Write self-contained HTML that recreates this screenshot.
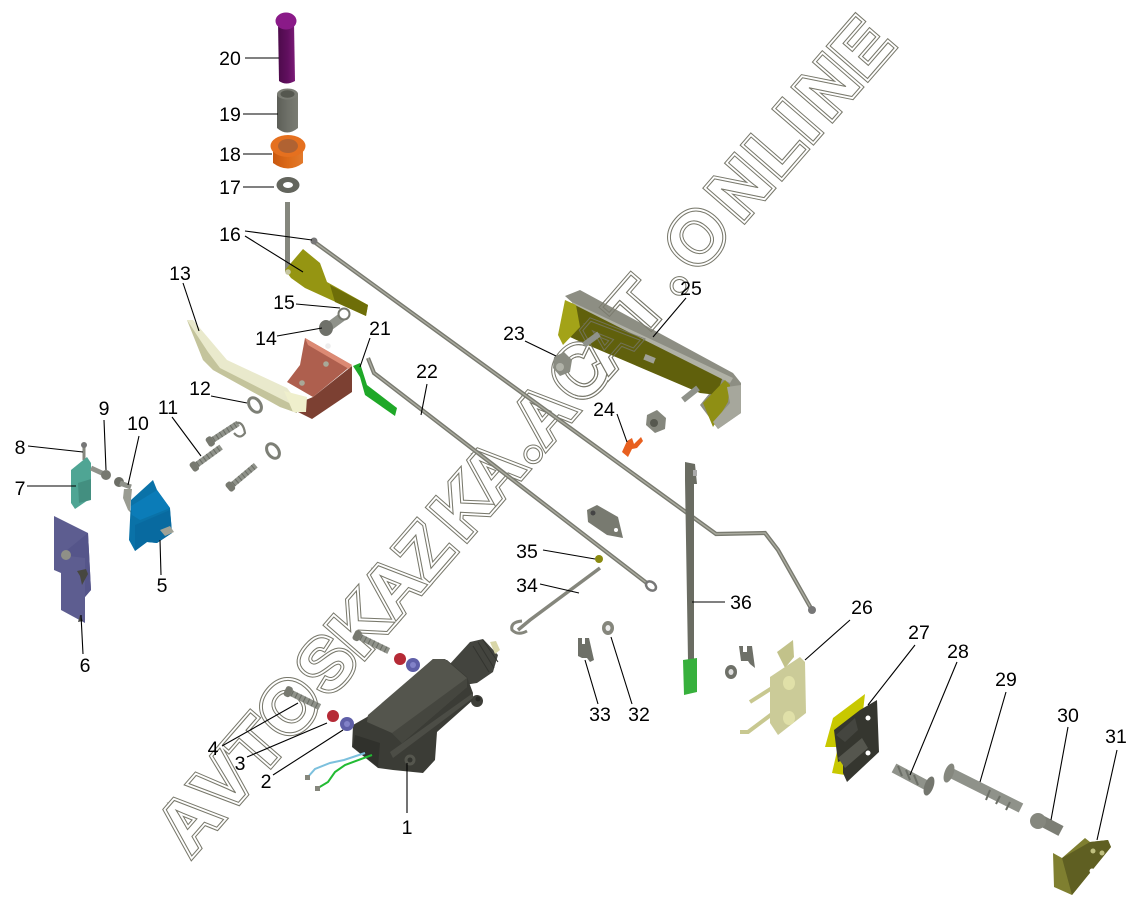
<!DOCTYPE html>
<html><head><meta charset="utf-8"><style>
html,body{margin:0;padding:0;background:#fff}
svg{display:block}
.n{font:19.5px "Liberation Sans",sans-serif;fill:#000;text-anchor:middle}
.l{stroke:#000;stroke-width:1.1;fill:none}
.wm{font:bold 72px "Liberation Sans",sans-serif;stroke-linejoin:miter}
</style></head><body>
<svg width="1145" height="903" viewBox="0 0 1145 903" xmlns="http://www.w3.org/2000/svg">
<defs>
<linearGradient id="pur" x1="0" x2="1" y1="0" y2="0"><stop offset="0" stop-color="#4c0a4a"/><stop offset=".6" stop-color="#620f60"/><stop offset="1" stop-color="#7c1c78"/></linearGradient>
<linearGradient id="gry" x1="0" x2="1" y1="0" y2="0"><stop offset="0" stop-color="#5c5e57"/><stop offset=".5" stop-color="#6e7068"/><stop offset="1" stop-color="#7a7c73"/></linearGradient>
<linearGradient id="org" x1="0" x2="1" y1="0" y2="0"><stop offset="0" stop-color="#c85810"/><stop offset=".5" stop-color="#dc6a18"/><stop offset="1" stop-color="#e27a2c"/></linearGradient>
<g id="scr"><rect x="0" y="-3.5" width="38" height="7" fill="#8f928a"/><path d="M4-3.5V3.500M9-3.500V3.500M14-3.500V3.500M19-3.500V3.500M24-3.500V3.500M29-3.500V3.500M34-3.500V3.500" stroke="#6a6d65" stroke-width="1.200"/><rect x="-5" y="-6" width="8" height="12" rx="3" fill="#777970"/></g>
<mask id="wmm" maskUnits="userSpaceOnUse" x="0" y="0" width="1145" height="903">
<rect width="1145" height="903" fill="#000"/>
<g transform="translate(190,858) rotate(-49)">
<text class="wm" fill="#fff" stroke="#fff" stroke-width="6.800"><tspan x="1 55 106 151 212 261 312 363 417 464">AVTOSKAZKA</tspan><tspan x="522" y="9" font-size="45">•</tspan><tspan x="541 597 636 686" y="0">ACAT</tspan><tspan x="745" y="9" font-size="45">•</tspan><tspan x="773 840 897 945 974 1028" y="0">ONLINE</tspan></text>
<text class="wm" fill="#000" stroke="#000" stroke-width="4.800"><tspan x="1 55 106 151 212 261 312 363 417 464">AVTOSKAZKA</tspan><tspan x="522" y="9" font-size="45">•</tspan><tspan x="541 597 636 686" y="0">ACAT</tspan><tspan x="745" y="9" font-size="45">•</tspan><tspan x="773 840 897 945 974 1028" y="0">ONLINE</tspan></text>
<text class="wm" fill="#000" stroke="#fff" stroke-width="1"><tspan x="1 55 106 151 212 261 312 363 417 464">AVTOSKAZKA</tspan><tspan x="522" y="9" font-size="45">•</tspan><tspan x="541 597 636 686" y="0">ACAT</tspan><tspan x="745" y="9" font-size="45">•</tspan><tspan x="773 840 897 945 974 1028" y="0">ONLINE</tspan></text>
</g>
</mask>
</defs>
<rect width="1145" height="903" fill="#fff"/>
<rect width="1145" height="903" fill="#77776a" mask="url(#wmm)"/>

<!-- rods -->
<polyline points="313,241 716,534 765,533 778,550 812,610" fill="none" stroke="#797a70" stroke-width="4.200"/>
<polyline points="313,241 716,534 765,533 778,550 812,610" fill="none" stroke="#aaab9f" stroke-width="1.400"/>
<circle cx="314" cy="241" r="3.500" fill="#777"/><circle cx="812" cy="610" r="4" fill="#777"/>
<polyline points="368,358 374,373 648,584" fill="none" stroke="#797a70" stroke-width="4.200"/>
<polyline points="368,358 374,373 648,584" fill="none" stroke="#aaab9f" stroke-width="1.400"/>
<ellipse cx="651" cy="586" rx="5.500" ry="4" transform="rotate(38 651 586)" fill="#fff" stroke="#777" stroke-width="2.500"/>

<!-- 20,19,18,17 -->
<path d="M278 22H294L295 81Q286 86 279 81Z" fill="url(#pur)"/>
<ellipse cx="286" cy="21" rx="10.500" ry="8.500" fill="#8a1a88"/>
<path d="M277 94V128Q287 137 298 128V94Z" fill="url(#gry)"/><ellipse cx="287.500" cy="94" rx="10.500" ry="5.500" fill="#7a7c74"/><ellipse cx="287.500" cy="94" rx="7" ry="3.800" fill="#55574f"/>
<path d="M273 148V163Q288 174 303 163V148Z" fill="url(#org)"/><ellipse cx="288" cy="146" rx="17.500" ry="11" fill="#e5701f"/><ellipse cx="288" cy="146" rx="10" ry="7" fill="#b06232"/>
<ellipse cx="288" cy="185" rx="11.500" ry="8" fill="#63655d"/><ellipse cx="288" cy="185" rx="5" ry="3" fill="#fff"/>

<!-- 16 -->
<rect x="285" y="202" width="5" height="70" fill="#85877e"/>
<polygon points="285,270 303,249 320,263 327,282 368,305 366,316 340,304 305,288 291,278" fill="#959512"/>
<polygon points="330,285 368,305 366,316 335,302" fill="#6e6e08"/>
<circle cx="288" cy="272" r="2.800" fill="#c6c6a0"/>

<!-- 13 -->
<polygon points="187,320 193,320 227,360 287,388 298,402 297,413 280,407 213,370 203,360" fill="#e9e9cc"/>
<polygon points="187,320 203,360 213,370 280,407 297,413 297,407 220,368 208,352" fill="#c4c49c"/>
<!-- red bracket -->
<polygon points="305,338 352,365 313,397 287,382 300,365" fill="#ae5f4e"/>
<polygon points="313,397 352,366 352,392 312,419 298,412 296,404" fill="#7c4032"/>
<polygon points="305,338 352,365 349,369 308,345" fill="#dc8a74"/>
<circle cx="326" cy="364" r="2.800" fill="#a8a898"/><circle cx="302" cy="383" r="2.800" fill="#a8a898"/><circle cx="328" cy="346" r="2.800" fill="#eee"/>
<polygon points="284,391 307,397 306,412 293,412" fill="#efefcc"/>
<!-- 21 -->
<polygon points="353,366 360,363 367,385 397,408 395,416 365,395 360,377" fill="#1fa828"/>
<!-- 14 15 -->
<line x1="327" y1="328" x2="342" y2="317" stroke="#8f928a" stroke-width="9"/>
<ellipse cx="326" cy="328" rx="7" ry="8" fill="#6f716a"/>
<circle cx="344" cy="314" r="5.500" fill="#fff" stroke="#77796f" stroke-width="2"/>
<!-- washers/screws 11,12 -->
<ellipse cx="255" cy="405" rx="5.500" ry="8" transform="rotate(-35 255 405)" fill="#fff" stroke="#7d7f76" stroke-width="3"/>
<ellipse cx="273" cy="451" rx="5.500" ry="8" transform="rotate(-35 273 451)" fill="#fff" stroke="#7d7f76" stroke-width="3"/>
<use href="#scr" transform="translate(195,466) rotate(-36) scale(.85)"/>
<use href="#scr" transform="translate(211,441) rotate(-33) scale(.85)"/>
<path d="M236 423Q243 421 245 433Q240 440 234 433" fill="none" stroke="#7d7f76" stroke-width="2.200"/>
<use href="#scr" transform="translate(231,486) rotate(-40) scale(.85)"/>

<!-- 8,7,9,10 -->
<line x1="84" y1="446" x2="84" y2="460" stroke="#85877e" stroke-width="3"/><circle cx="84" cy="445" r="3" fill="#777"/>
<polygon points="71,470 87,457 91,463 91,498 75,509 71,503" fill="#4fa594"/>
<polygon points="78,483 91,479 91,500 79,503" fill="#438f80"/>
<line x1="91" y1="468" x2="104" y2="474" stroke="#8f928a" stroke-width="5"/><circle cx="106" cy="475" r="5" fill="#777970"/>
<circle cx="119" cy="482" r="5" fill="#6c6e66"/><line x1="120" y1="483" x2="131" y2="487" stroke="#8f928a" stroke-width="5"/>
<path d="M124 489L132 489 130 510 132 514 128 510 123 498Z" fill="#9a9c92"/>
<!-- 5 -->
<polygon points="131,500 153,480 157,490 170,508 172,533 157,543 147,542 135,551 129,540" fill="#0a72a8"/>
<polygon points="131,506 157,490 170,508 140,520 132,515" fill="#0b7cb8"/>
<polygon points="135,525 170,510 172,533 157,543 147,542 135,551" fill="#086aa0"/>
<polygon points="160,530 170,526 174,532 165,536" fill="#a0a296"/>
<!-- 6 -->
<polygon points="54,516 88,533 91,590 85,597 85,623 61,610 61,573 54,570" fill="#5d5d90"/>
<polygon points="61,555 88,533 91,590 85,597 85,558" fill="#55558a"/>
<circle cx="66" cy="555" r="5" fill="#8f9087"/><path d="M77 571l9-2 2 5-6 11-2-9z" fill="#474740"/>
<path d="M78 622l2-7 3 6z" fill="#444"/>

<!-- 1 actuator -->
<polygon points="449,665 470,642 483,639 498,655 493,672 477,683 464,685" fill="#43443e"/>
<path d="M473 646L489 672M478 642L494 668M483 640L498 662" stroke="#33342f" stroke-width="1"/>
<polygon points="490,642 496,641 500,650 495,654" fill="#d8d6a8"/>
<circle cx="477" cy="701" r="6" fill="#3e3f39"/><circle cx="478" cy="699" r="2.500" fill="#2a2b27"/>
<polygon points="353,725 367,717 433,659 447,660 467,677 473,693 473,700 437,732 435,760 423,773 393,770 378,768 352,747" fill="#3b3c36"/>
<polygon points="368,715 433,659 445,659 467,678 467,687 402,743 392,733 367,722" fill="#54554d"/>
<polygon points="392,733 467,678 467,687 402,743" fill="#45463f"/>
<polygon points="390,752 473,693 473,698 393,758" fill="#4c4d46"/>
<polygon points="355,735 380,743 378,767 353,747" fill="#30312c"/>
<circle cx="410" cy="760" r="5.500" fill="#55564e"/><circle cx="410" cy="760" r="2.500" fill="#33342f"/>
<polyline points="365,753 344,760 330,763 315,769 307,778" fill="none" stroke="#7cc0dd" stroke-width="2"/>
<polyline points="372,755 345,765 335,772 328,782 318,788" fill="none" stroke="#22bb33" stroke-width="2"/>
<rect x="305" y="775" width="5" height="5" fill="#85867c"/><rect x="315" y="786" width="5" height="5" fill="#85867c"/>
<!-- small screws -->
<use href="#scr" transform="translate(358,636) rotate(26) scale(.9)"/>
<use href="#scr" transform="translate(289,692) rotate(26) scale(.9)"/>
<circle cx="400" cy="659" r="6" fill="#b52a36"/><circle cx="413" cy="665" r="7" fill="#5f5fa8"/><circle cx="413" cy="665" r="3" fill="#8282c8"/>
<circle cx="333" cy="716" r="6" fill="#b52a36"/><circle cx="347" cy="724" r="7" fill="#5f5fa8"/><circle cx="347" cy="724" r="3" fill="#8282c8"/>

<!-- mid small parts -->
<polygon points="587,510 597,505 618,517 623,538 607,535 588,522" fill="#787a70"/><circle cx="593" cy="513" r="2.500" fill="#444"/><circle cx="616" cy="530" r="2" fill="#fff"/>
<circle cx="599" cy="559" r="4" fill="#8a8a10"/>
<polyline points="600,568 530,620 518,630" fill="none" stroke="#85867c" stroke-width="3.500"/>
<path d="M522 621Q510 622 512 630Q518 636 527 631" fill="none" stroke="#85867c" stroke-width="3"/>
<path d="M578 638h4v6h3v-6h4l5 22-4 2-3-4h-5l-4-2z" fill="#6e7068"/>
<ellipse cx="608" cy="628" rx="6" ry="7" fill="#85867c"/><ellipse cx="608" cy="628" rx="2.500" ry="3" fill="#eee"/>
<!-- 36 -->
<polygon points="685,462 695,464 697,484 694,484 694,660 688,660 685,480" fill="#6a6c62"/>
<rect x="693" y="470" width="4" height="6" fill="#aaa"/>
<polygon points="683,660 697,658 697,692 684,695" fill="#37b03c"/>
<!-- clip + washer -->
<path d="M739 646h4v6h4v-6h5l3 22-5-4-2-3h-7z" fill="#6e7068"/>
<ellipse cx="731" cy="672" rx="6" ry="7" fill="#6e7068"/><ellipse cx="731" cy="672" rx="2.500" ry="3" fill="#ddd"/>

<!-- 25 -->
<polygon points="565,296 580,290 733,373 741,383 741,413 718,429 700,405 722,378 575,305" fill="#8d8e83"/>
<polygon points="572,302 733,378 730,383 572,306" fill="#b0b1a6"/>
<polygon points="575,305 722,379 717,395 700,393 583,343 570,337" fill="#60600c"/>
<polygon points="565,300 576,305 580,327 563,345 558,335" fill="#a3a318"/>
<polygon points="703,403 725,380 730,385 728,402 713,427" fill="#8f8f14"/>
<polygon points="727,387 741,385 741,413 718,429 713,422 730,403" fill="#a6a79c"/>
<rect x="575" y="300" width="150" height="100" fill="#77776a" mask="url(#wmm)" opacity=".8"/>
<rect x="644" y="356" width="11" height="6" fill="#a0a196" transform="rotate(22 650 359)"/>
<line x1="584" y1="345" x2="599" y2="334" stroke="#8f928a" stroke-width="6"/>
<line x1="683" y1="400" x2="698" y2="388" stroke="#8f928a" stroke-width="6"/>
<polygon points="554,357 564,352 572,360 570,372 560,376 553,368" fill="#8a8c82"/><circle cx="560" cy="367" r="4" fill="#b0b2a8"/>
<polygon points="647,415 657,410 666,418 665,429 655,433 646,425" fill="#85877d"/><circle cx="654" cy="423" r="4" fill="#56584f"/>
<path d="M622 452L627 441 632 438 634 444 641 437 643 441 637 448 632 449 628 457Z" fill="#e8601f"/>

<!-- 26 -->
<line x1="750" y1="702" x2="772" y2="688" stroke="#c8c890" stroke-width="4"/>
<polyline points="740,732 748,732 772,714" fill="none" stroke="#c8c890" stroke-width="4"/>
<polygon points="777,652 793,640 794,657 785,668" fill="#c2c28a"/>
<polygon points="770,677 800,657 805,662 806,713 778,735 770,723" fill="#cbcb98"/>
<ellipse cx="789" cy="683" rx="6" ry="7" fill="#e0e0a8"/><ellipse cx="789" cy="718" rx="6" ry="7" fill="#e0e0a8"/>
<!-- 27 -->
<polygon points="865,694 833,718 825,747 838,747 832,773 845,775 862,720" fill="#c8c800"/>
<polygon points="877,700 879,752 847,782 843,773 843,760 838,762 834,730 860,710" fill="#35362f"/>
<polygon points="836,735 855,718 858,730 845,742" fill="#44453f"/><polygon points="838,758 862,738 868,748 845,768" fill="#55564e"/>
<circle cx="868" cy="718" r="2.500" fill="#fff"/><circle cx="868" cy="753" r="2.500" fill="#fff"/>
<!-- 28,29,30,31 -->
<line x1="894" y1="768" x2="926" y2="785" stroke="#8f928a" stroke-width="10"/>
<path d="M898 766L902 776M906 770L910 780M914 775L918 785" stroke="#6c6f67" stroke-width="2"/>
<ellipse cx="929" cy="786" rx="4.500" ry="10" transform="rotate(20 929 786)" fill="#74766e"/>
<line x1="951" y1="773" x2="1021" y2="808" stroke="#8f928a" stroke-width="10"/>
<path d="M990 790L986 800M1000 796L996 804M1010 802L1006 810" stroke="#6c6f67" stroke-width="2"/>
<ellipse cx="949" cy="773" rx="4.500" ry="10" transform="rotate(20 949 773)" fill="#85877e"/>
<line x1="1040" y1="820" x2="1061" y2="831" stroke="#7c7e75" stroke-width="11"/>
<circle cx="1038" cy="821" r="8" fill="#85877e"/>
<polygon points="1053,853 1062,858 1085,838 1090,842 1108,840 1111,847 1072,895 1054,887" fill="#7f7f30"/>
<polygon points="1062,858 1090,842 1108,840 1111,847 1072,895" fill="#5f5f22"/>
<circle cx="1093" cy="851" r="2.500" fill="#c0c080"/><circle cx="1102" cy="853" r="2.500" fill="#c0c080"/><circle cx="1092" cy="871" r="2.500" fill="#fff"/>

<!-- leaders -->
<path class="l" d="M245 58H279M243 114H278M243 154H272M243 187H274M245 231L312 240M245 236L303 272M296 304L340 308M277 336L322 328M183 283L199 331M370 338L360 367M427 384L421 415M525 341L556 356M686 298L653 337M617 414L627 442M211 396L247 403M172 417L201 456M104 420L106 470M139 436L128 485M28 446L83 452M27 486L76 486M161 575L160 540M83 654L81 615M543 550L595 559M540 584L579 593M598 704L585 660M632 704L611 637M725 602H692M850 620L805 660M915 645L868 705M957 662L910 775M1006 692L980 782M1068 727L1051 820M1117 750L1097 840M222 746L298 703M247 757L327 723M273 775L343 730M407 813V763"/>

<!-- labels -->
<g class="n">
<text class="n" x="230" y="65">20</text><text class="n" x="230" y="121">19</text><text class="n" x="230" y="161">18</text><text class="n" x="230" y="194">17</text><text class="n" x="230" y="241">16</text>
<text class="n" x="180" y="280">13</text><text class="n" x="284" y="309">15</text><text class="n" x="266" y="345">14</text><text class="n" x="380" y="335">21</text><text class="n" x="427" y="378">22</text>
<text class="n" x="514" y="340">23</text><text class="n" x="691" y="295">25</text><text class="n" x="604" y="416">24</text><text class="n" x="200" y="395">12</text><text class="n" x="168" y="414">11</text>
<text class="n" x="104" y="415">9</text><text class="n" x="138" y="430">10</text><text class="n" x="20" y="454">8</text><text class="n" x="20" y="495">7</text><text class="n" x="162" y="592">5</text><text class="n" x="85" y="672">6</text>
<text class="n" x="527" y="558">35</text><text class="n" x="527" y="592">34</text><text class="n" x="639" y="721">32</text><text class="n" x="600" y="721">33</text><text class="n" x="741" y="609">36</text>
<text class="n" x="862" y="614">26</text><text class="n" x="919" y="639">27</text><text class="n" x="958" y="658">28</text><text class="n" x="1006" y="686">29</text><text class="n" x="1068" y="722">30</text><text class="n" x="1116" y="743">31</text>
<text class="n" x="213" y="755">4</text><text class="n" x="240" y="770">3</text><text class="n" x="266" y="788">2</text><text class="n" x="407" y="834">1</text>
</g>
</svg>
</body></html>
